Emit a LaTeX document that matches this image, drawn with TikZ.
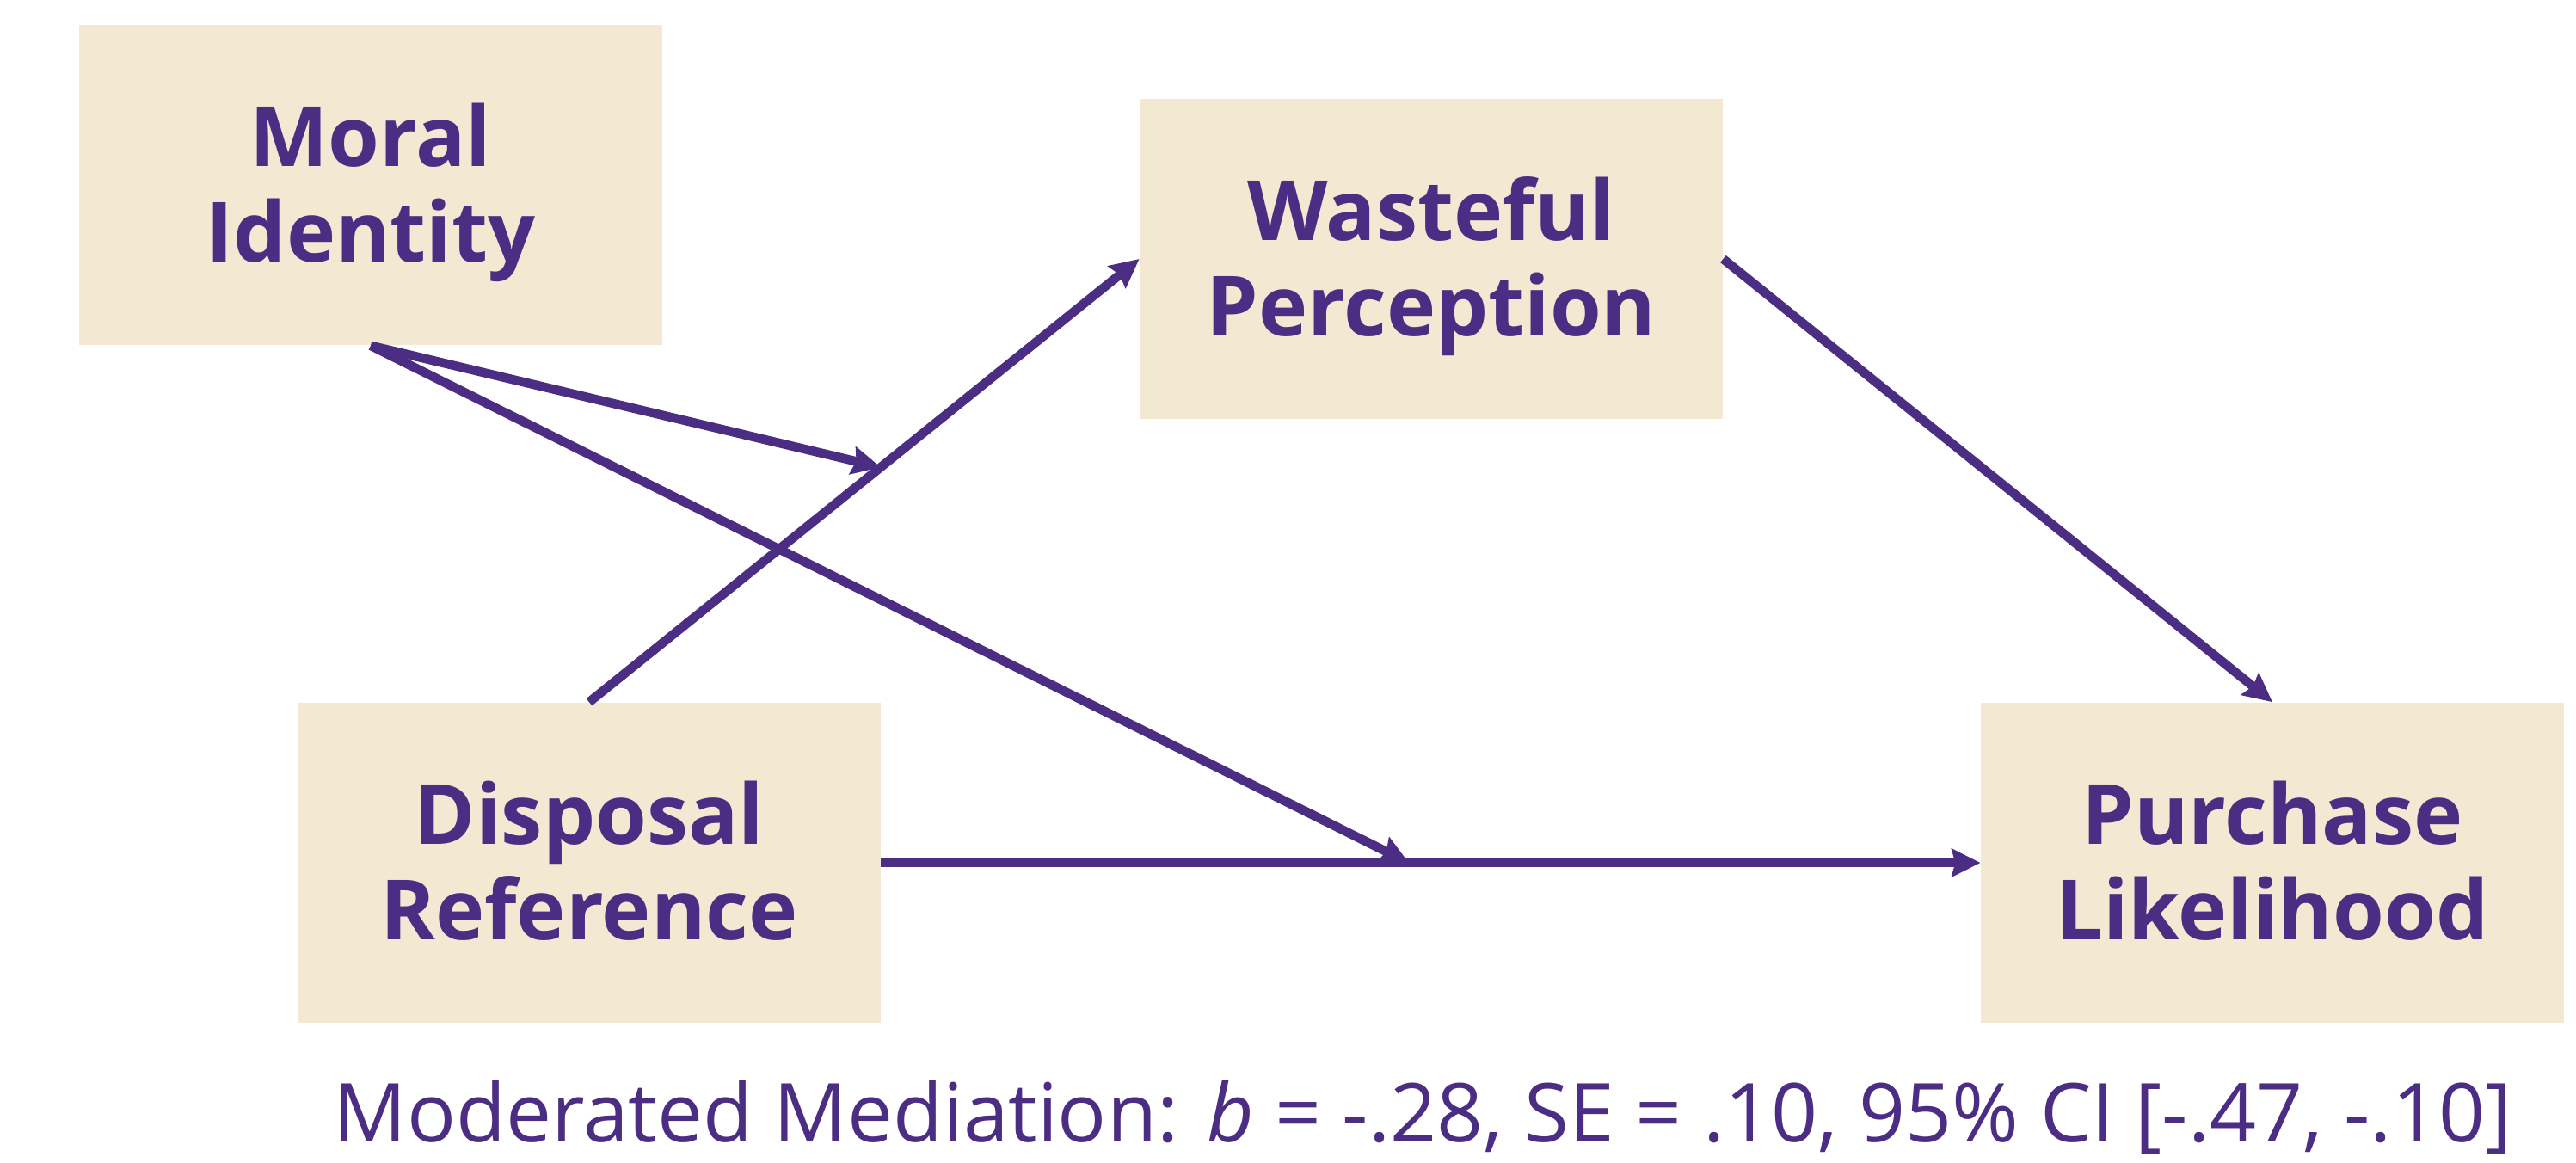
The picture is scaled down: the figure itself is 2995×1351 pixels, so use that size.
\documentclass[tikz,border=0pt]{standalone}
\usepackage{fontspec}
\setmainfont{Open Sans}
\usetikzlibrary{arrows.meta}
\definecolor{uwpurple}{HTML}{4B2E83}
\definecolor{sand}{HTML}{F3E8D1}

\begin{document}
\begin{tikzpicture}[x=0.01cm, y=-0.01cm,
    box/.style={fill=sand, minimum width=6.77cm, minimum height=3.72cm, align=center,
        text depth=1.5pt, text=uwpurple, font=\fontsize{27.5}{31.5}\selectfont\bfseries},
    link/.style={draw=uwpurple, line width=3pt, -{Stealth[length=9.5pt, width=9.2pt, inset=1.2pt]}}]
    \useasboundingbox (0,0) rectangle (2995,1351);

    % variables
    \node[box] (moral) at (431,215) {Moral\\Identity};
    \node[box] (waste) at (1664,301) {Wasteful\\Perception};
    \node[box] (disp) at (685,1003) {Disposal\\Reference};
    \node[box] (buy) at (2642,1003) {Purchase\\Likelihood};

    % paths
    \draw[link] (disp.north) -- coordinate[pos=0.53] (modA) (waste.west);
    \draw[link] (waste.east) -- (buy.north);
    \draw[link] (disp.east) -- coordinate[pos=0.48] (modB) (buy.west);

    % moderator
    \draw[link] (moral.south) -- (modA);
    \draw[link] (moral.south) -- (modB);

    % result
    \node[anchor=base, text=uwpurple, font=\fontsize{26.9}{31}\selectfont] (note) at (1654,1327)
        {Moderated Mediation: \textit{b} = -.28, SE = .10, 95\% CI [-.47, -.10]};
\end{tikzpicture}
\end{document}
